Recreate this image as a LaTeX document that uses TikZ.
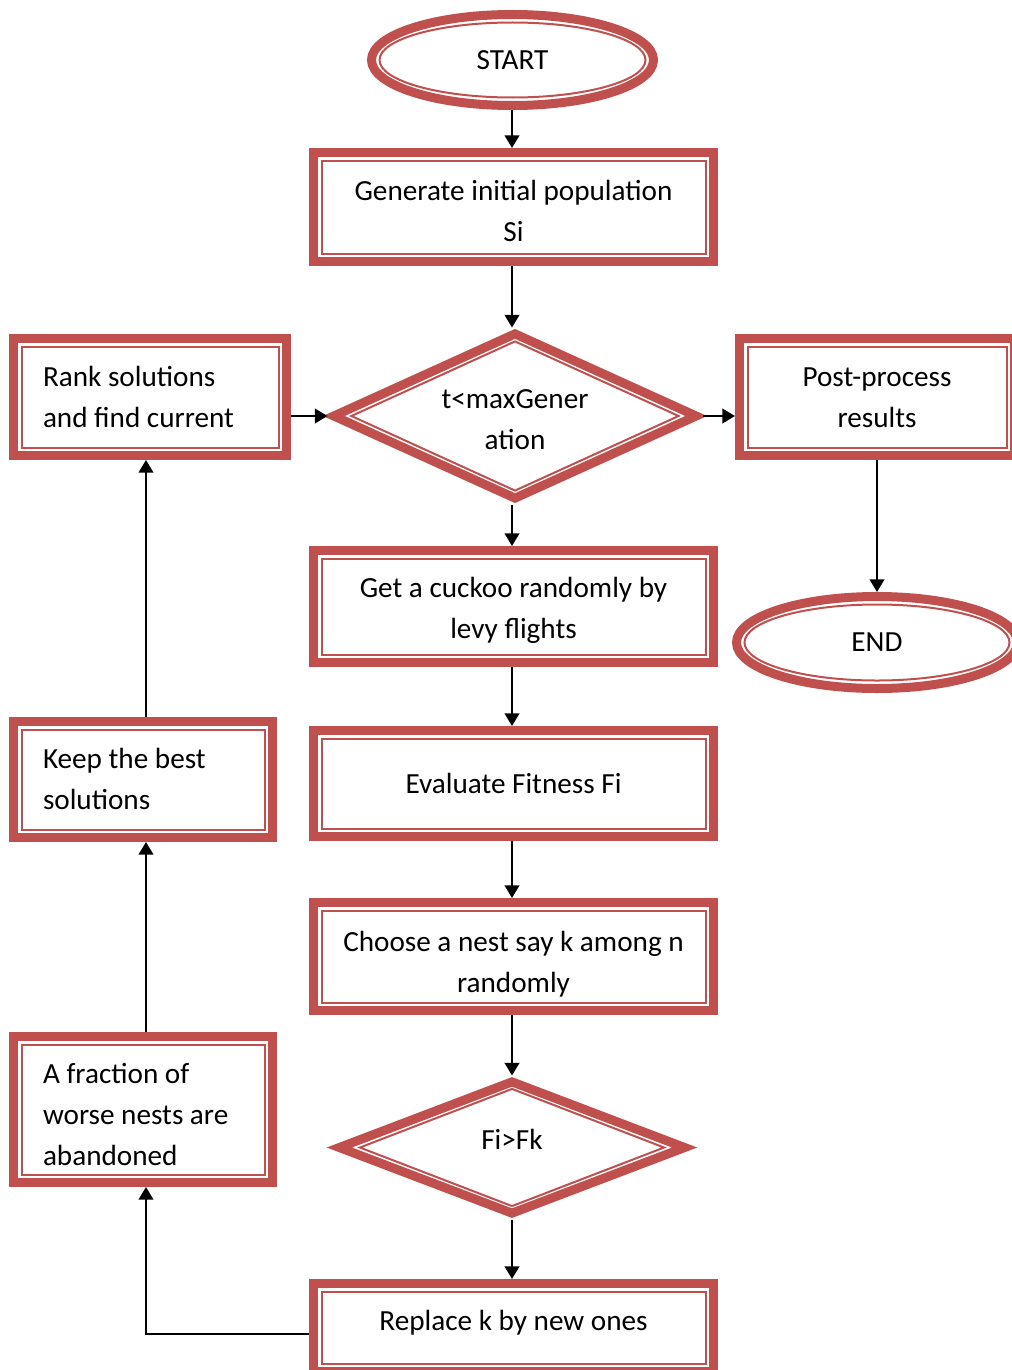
\documentclass[tikz,border=0pt]{standalone}
\usepackage{fontspec}
\setmainfont{Carlito}
\usetikzlibrary{shapes.geometric,arrows.meta,calc}
\definecolor{ringred}{HTML}{C0504D}
% invisible struts that fix the height of a first line / depth of a last line
\newcommand\hstrut[1]{\rule{0pt}{#1}}
\newcommand\dstrut{\rule[-9pt]{0pt}{9pt}}

\begin{document}
\begin{tikzpicture}[x=0.75pt,y=-0.75pt,
  font=\fontsize{21.9pt}{30.75pt}\selectfont,
  % thick outer band of every shape
  band/.style={draw=ringred, line width=6.75pt, inner sep=0pt, align=center},
  % thin inner rim drawn just inside the band
  rim/.style={draw=ringred, line width=1.5pt, inner sep=0pt},
  dims/.style 2 args={minimum width=#1*0.75pt, minimum height=#2*0.75pt},
  leftbox/.style={align=flush left, text width=#1},
  link/.style={draw=black, line width=1.5pt, -{Triangle[length=9.5pt,width=11pt]}},
]
\useasboundingbox (0,0) rectangle (1011,1370);

% column guides for the straight connectors
\coordinate (midx) at (512,0);
\coordinate (colx) at (146,0);

% start
\node[band, ellipse, dims={282}{91}] (start) at (512.5,60) {START};
\node[rim, ellipse, dims={266}{75}] (start-in) at (start.center) {};

% main column
\node[band, rectangle, dims={400}{109}] (gen) at (513.5,207)
  {\hstrut{29.25pt}Generate initial population\\Si\dstrut};
\node[rim, rectangle, dims={384}{93}] (gen-in) at (gen.center) {};

\node[band, diamond, aspect=2.2, dims={366}{168}] (loop) at (515,416)
  {\hstrut{27.75pt}t<maxGener\\ation\dstrut};
\node[rim, diamond, aspect=2.2, dims={328}{150}] (loop-in) at (loop.center) {};

\node[band, rectangle, dims={400}{112}] (levy) at (513.5,606.5)
  {\hstrut{25.5pt}Get a cuckoo randomly by\\levy flights\dstrut};
\node[rim, rectangle, dims={384}{96}] (levy-in) at (levy.center) {};

\node[band, rectangle, dims={400}{106}] (eval) at (513.5,783.5) {Evaluate Fitness Fi};
\node[rim, rectangle, dims={384}{90}] (eval-in) at (eval.center) {};

\node[band, rectangle, dims={400}{108}] (pick) at (513.5,956.5)
  {\hstrut{31.5pt}Choose a nest say k among n\\randomly\dstrut};
\node[rim, rectangle, dims={384}{92}] (pick-in) at (pick.center) {};

\node[band, diamond, aspect=2.6, dims={349}{135}, text height=16.5pt, text depth=14.25pt] (cmp) at (512,1147.5) {Fi>Fk};
\node[rim, diamond, aspect=2.6, dims={305}{118}] (cmp-in) at (cmp.center) {};

\node[band, rectangle, dims={400}{88}, text height=16.5pt, text depth=12.75pt] (repl) at (513.5,1327.5) {Replace k by new ones};
\node[rim, rectangle, dims={384}{72}] (repl-in) at (repl.center) {};

% right column
\node[band, rectangle, dims={275}{117}] (post) at (877,397)
  {\hstrut{23.25pt}Post-process\\results\dstrut};
\node[rim, rectangle, dims={259}{101}] (post-in) at (post.center) {};

\node[band, ellipse, dims={281}{92}] (end) at (877,642.5) {END};
\node[rim, ellipse, dims={265}{76}] (end-in) at (end.center) {};

% left column
\node[band, rectangle, dims={273}{117}, leftbox=160.5pt] (rank) at (150,397)
  {\hstrut{23.25pt}Rank solutions\\and find current\dstrut};
\node[rim, rectangle, dims={257}{101}] (rank-in) at (rank.center) {};

\node[band, rectangle, dims={259}{116}, leftbox=150pt] (keep) at (143,779.5)
  {\hstrut{22.5pt}Keep the best\\solutions\dstrut};
\node[rim, rectangle, dims={243}{100}] (keep-in) at (keep.center) {};

\node[band, rectangle, dims={259}{146}, leftbox=150pt] (frac) at (143,1109.5)
  {\hstrut{30.75pt}A fraction of\\worse nests are\\abandoned\dstrut};
\node[rim, rectangle, dims={243}{130}] (frac-in) at (frac.center) {};

% connectors
\draw[link] (start.south -| midx) -- (gen.north -| midx);
\draw[link] (gen.south -| midx) -- (loop.north -| midx);
\draw[link] (loop.south -| midx) -- (levy.north -| midx);
\draw[link] (levy.south -| midx) -- (eval.north -| midx);
\draw[link] (eval.south -| midx) -- (pick.north -| midx);
\draw[link] (pick.south -| midx) -- (cmp.north -| midx);
\draw[link] (cmp.south -| midx) -- (repl.north -| midx);
\draw[link] ([yshift=-4.9pt]repl.west) -| (frac.south -| colx);
\draw[link] (frac.north -| colx) -- (keep.south -| colx);
\draw[link] (keep.north -| colx) -- (rank.south -| colx);
\draw[link] (rank.east |- loop.west) -- (loop.west);
\draw[link] (loop.east) -- (loop.east -| post.west);
\draw[link] (post.south) -- (end.north);
\end{tikzpicture}
\end{document}
